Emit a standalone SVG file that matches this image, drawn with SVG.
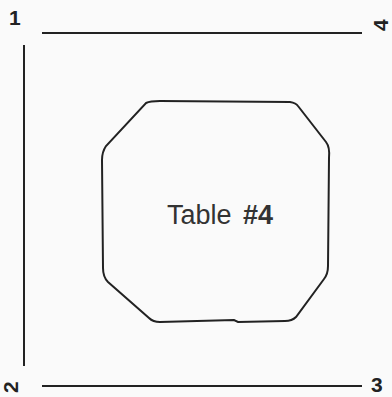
<svg xmlns="http://www.w3.org/2000/svg" width="392" height="397" viewBox="0 0 392 397">
<style>
.ln{stroke:#222;stroke-width:2;fill:none}
.num{font-family:"Liberation Sans",Arial,sans-serif;font-size:21px;font-weight:bold;fill:#222}
.lbl{font-family:"Liberation Sans",Arial,sans-serif;font-size:27px;fill:#333}
</style>
<rect width="392" height="397" fill="#fafafa"/>
<g id="connectors">
<line class="ln" x1="42" y1="33" x2="362" y2="33"/>
<line class="ln" x1="42" y1="386" x2="362" y2="386"/>
<line class="ln" x1="24" y1="45" x2="24" y2="366" stroke="#555"/>
</g>
<g id="corner1"><text class="num" x="9" y="25">1</text></g>
<g id="corner2"><text class="num" transform="translate(18,393) rotate(-90)">2</text></g>
<g id="corner3"><text class="num" x="371" y="392">3</text></g>
<g id="corner4"><text class="num" transform="translate(388,31) rotate(-90)">4</text></g>
<g id="table4">
<path class="ln" stroke-width="2.5" d="M146,103 Q150,101 160,101 L290,102 Q296,103 298,106 L326,142 Q330,147 329,158 L328,266 Q328,274 324,279 L296,317 Q292,321 285,321 L238,322 L234,320 L160,322 Q153,322 149,318 L108,282 Q103,277 103,268 L102,160 Q102,152 106,146 Z"/>
<text class="lbl" x="167" y="224">Table <tspan font-weight="bold" dx="4">#4</tspan></text>
</g>
</svg>
